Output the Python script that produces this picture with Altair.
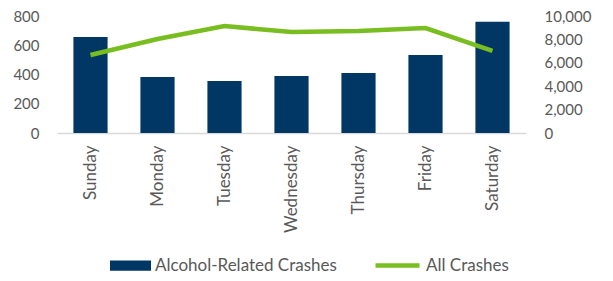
import altair as alt
import pandas as pd

days = ["Sunday", "Monday", "Tuesday", "Wednesday", "Thursday", "Friday", "Saturday"]
alcohol = [657, 383, 356, 390, 411, 534, 760]
all_crashes = [6670, 8030, 9140, 8630, 8720, 8970, 7010]

df = pd.DataFrame({
    "day": days,
    "alcohol": alcohol,
    "all": all_crashes,
    "s1": ["Alcohol-Related Crashes"] * 7,
    "s2": ["All Crashes"] * 7,
})

FONT = "Lato"
LABEL = "#595959"

x = alt.X("day:N", sort=days, title=None,
          scale=alt.Scale(paddingInner=0.49, paddingOuter=0.245),
          axis=alt.Axis(labelAngle=-90, labelFontSize=17, labelColor=LABEL, labelFont=FONT,
                        domainColor="#d9d9d9", domainWidth=1.5, ticks=False, labelPadding=12))

bars = alt.Chart(df).mark_bar(color="#003764").encode(
    x=x,
    y=alt.Y("alcohol:Q", title=None,
            scale=alt.Scale(domain=[0, 800], nice=False),
            axis=alt.Axis(values=[0, 200, 400, 600, 800], labelFontSize=15, labelColor=LABEL,
                          labelFont=FONT, domain=False, ticks=False, grid=False, labelPadding=18)),
    color=alt.Color("s1:N", scale=alt.Scale(range=["#003764"]),
                    legend=alt.Legend(title=None, orient="none", legendX=53, legendY=229,
                                      padding=0, labelLimit=400,
                                      symbolType="M-1,-0.25H1V0.25H-1Z", symbolSize=1681,
                                      symbolStrokeWidth=0, labelFontSize=17, labelColor=LABEL,
                                      labelFont=FONT, labelOffset=4)),
)

line = alt.Chart(df).mark_line(color="#78BE20", strokeWidth=4.5).encode(
    x=alt.X("day:N", sort=days),
    y=alt.Y("all:Q", title=None,
            scale=alt.Scale(domain=[0, 10000], nice=False),
            axis=alt.Axis(values=[0, 2000, 4000, 6000, 8000, 10000], format=",d", orient="right",
                          labelFontSize=15, labelColor=LABEL, labelFont=FONT, domain=False,
                          ticks=False, grid=False, labelPadding=18)),
    stroke=alt.Stroke("s2:N", scale=alt.Scale(range=["#78BE20"]),
                      legend=alt.Legend(title=None, orient="none", legendX=316, legendY=225,
                                        padding=0, labelLimit=400,
                                        symbolType="stroke", symbolSize=1936,
                                        symbolStrokeWidth=4.5, labelFontSize=17, labelColor=LABEL,
                                        labelFont=FONT, labelOffset=4)),
)

chart = alt.layer(bars, line).resolve_scale(y="independent", color="independent").properties(
    width=469, height=117,
    autosize=alt.AutoSizeParams(type="none"),
    padding={"left": 49, "top": 8, "right": 79, "bottom": 140},
).configure_view(stroke=None)

chart.save("out.html", embed_options={"renderer": "svg", "actions": False})
